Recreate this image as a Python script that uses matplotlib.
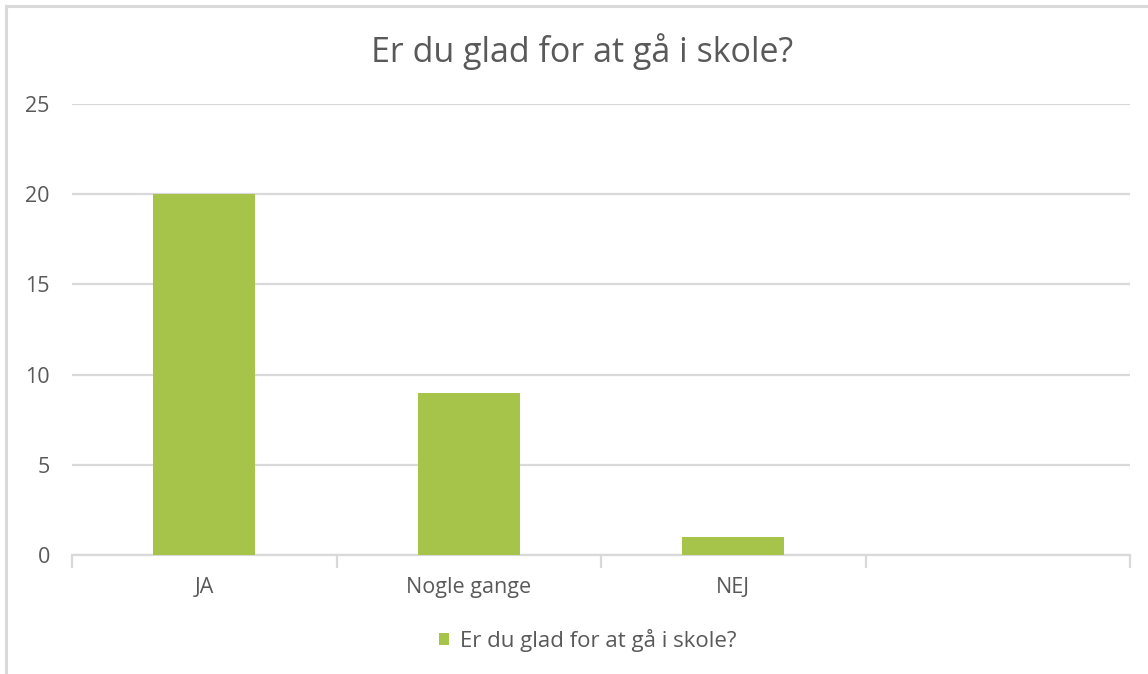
import matplotlib.pyplot as plt
from matplotlib.lines import Line2D
from matplotlib.patches import Patch

categories = ["JA", "Nogle gange", "NEJ", ""]
values = [20, 9, 1, 0]
title = "Er du glad for at gå i skole?"
y_ticks = [0, 5, 10, 15, 20, 25]

text_color = "#595959"
grid_color = "#D9D9D9"
bar_color = "#A7C44A"

plt.rcParams["font.family"] = ["Open Sans", "DejaVu Sans"]

fig = plt.figure(figsize=(11.48, 6.74), dpi=100)
ax = fig.add_axes([72 / 1148, 1 - 555 / 674, (1130 - 72) / 1148, (555 - 104) / 674])

x = list(range(len(categories)))
ax.bar(x[:3], values[:3], width=0.386, color=bar_color, zorder=3)

ax.set_xlim(-0.5, len(categories) - 0.5)
ax.set_ylim(0, 25)
ax.set_yticks(y_ticks)
ax.set_yticklabels([str(t) for t in y_ticks], fontsize=15.5, color=text_color)
ax.tick_params(axis="y", length=0, pad=16)
ax.yaxis.grid(True, color=grid_color, linewidth=1.6, zorder=0)

ax.set_xticks(x)
ax.set_xticklabels(categories, fontsize=15.5, color=text_color)
ax.tick_params(axis="x", length=0, pad=16)
# category separator ticks
ax.set_xticks([i - 0.5 for i in range(len(categories) + 1)], minor=True)
ax.tick_params(axis="x", which="minor", length=9, width=1.6, color=grid_color)

for side in ["top", "right", "left"]:
    ax.spines[side].set_visible(False)
ax.spines["bottom"].set_color(grid_color)
ax.spines["bottom"].set_linewidth(1.6)

fig.text(0.507, 1 - 52 / 674, title, ha="center", va="center", fontsize=24.5, color=text_color)

handles = [Patch(facecolor=bar_color, edgecolor="none")]
fig.legend(handles, [title], loc="center", bbox_to_anchor=(0.512, 1 - 640 / 674),
           frameon=False, fontsize=16, labelcolor=text_color,
           handlelength=0.45, handleheight=0.45, handletextpad=0.5)

# chart area border (left and top only visible)
fig.add_artist(Line2D([6 / 1148, 6 / 1148], [0, 1 - 6 / 674], color=grid_color, linewidth=2.2))
fig.add_artist(Line2D([6 / 1148, 1], [1 - 6 / 674, 1 - 6 / 674], color=grid_color, linewidth=2.2))

fig.savefig("out.png", dpi=100)
